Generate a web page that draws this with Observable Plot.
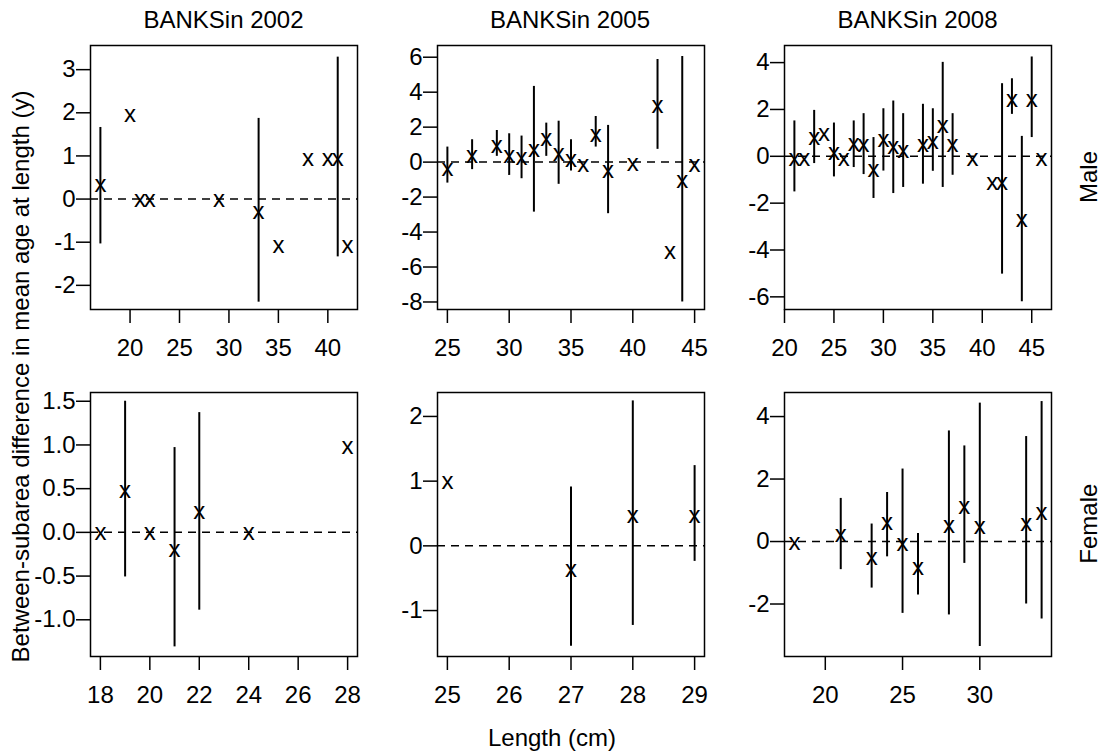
<!DOCTYPE html>
<html>
<head>
<meta charset="utf-8">
<script src="https://cdn.jsdelivr.net/npm/d3@7"></script>
<script src="https://cdn.jsdelivr.net/npm/@observablehq/plot@0.6"></script>
<style>
  html, body { margin: 0; padding: 0; background: #fff; }
  #chart { position: relative; width: 1104px; height: 753px; background: #fff; overflow: hidden;
           font-family: "Liberation Sans", Arial, Helvetica, sans-serif; }
</style>
</head>
<body>
<div id="chart"></div>
<script>
// ---------- data ----------
const titles = ["BANKSin 2002", "BANKSin 2005", "BANKSin 2008"];
const rowLabels = ["Male", "Female"];
const yLabel = "Between-subarea difference in mean age at length (y)";
const xLabel = "Length (cm)";

// Male 2002
const m2002Len  = [17, 20, 21, 22, 29, 33, 35, 38, 40, 41, 42];
const m2002Diff = [0.31, 1.93, -0.05, -0.05, -0.05, -0.33, -1.1, 0.9, 0.9, 0.9, -1.1];
const m2002Lo   = [-1.04, null, null, null, null, -2.39, null, null, null, -1.34, null];
const m2002Hi   = [1.66, null, null, null, null, 1.87, null, null, null, 3.29, null];

// Male 2005
const m2005Len  = [25, 27, 29, 30, 31, 32, 33, 34, 35, 36, 37, 38, 40, 42, 43, 44, 45];
const m2005Diff = [-0.44, 0.29, 0.9, 0.29, 0.19, 0.63, 1.28, 0.44, 0.1, -0.19, 1.53, -0.57, -0.15, 3.18, -5.2, -1.14, -0.19];
const m2005Lo   = [-1.2, -0.43, 0.33, -0.76, -0.95, -2.86, 0.33, -1.27, -0.51, null, 0.86, -2.95, null, 0.73, null, -8.0, null];
const m2005Hi   = [0.86, 1.28, 1.81, 1.62, 1.49, 4.33, 2.23, 2.34, 1.28, null, 2.61, 2.1, null, 5.87, null, 6.04, null];

// Male 2008
const m2008Len  = [21, 22, 23, 24, 25, 26, 27, 28, 29, 30, 31, 32, 34, 35, 36, 37, 39, 41, 42, 43, 44, 45, 46];
const m2008Diff = [-0.14, -0.14, 0.75, 0.9, 0.09, -0.17, 0.47, 0.43, -0.6, 0.64, 0.37, 0.18, 0.43, 0.57, 1.25, 0.43, -0.14, -1.17, -1.17, 2.36, -2.77, 2.36, -0.14];
const m2008Lo   = [-1.52, null, -0.31, null, -0.88, null, -0.48, -0.78, -1.8, -0.63, -1.59, -1.33, -1.19, -0.64, -1.33, -0.81, null, null, -5.03, 1.79, -6.21, 0.8, null];
const m2008Hi   = [1.51, null, 1.96, null, 1.42, null, 1.51, 1.82, 0.8, 2.03, 2.36, 1.82, 2.22, 2.03, 4.01, 1.82, null, null, 3.1, 3.31, 0.85, 4.24, null];

// Female 2002
const f2002Len  = [18, 19, 20, 21, 22, 24, 28];
const f2002Diff = [-0.02, 0.46, -0.02, -0.21, 0.22, -0.02, 0.97];
const f2002Lo   = [null, -0.51, null, -1.31, -0.89, null, null];
const f2002Hi   = [null, 1.5, null, 0.97, 1.37, null, null];

// Female 2005
const f2005Len  = [25, 27, 28, 29];
const f2005Diff = [0.97, -0.38, 0.45, 0.45];
const f2005Lo   = [null, -1.55, -1.23, -0.24];
const f2005Hi   = [null, 0.91, 2.24, 1.24];

// Female 2008
const f2008Len  = [18, 21, 23, 24, 25, 26, 28, 29, 30, 33, 34];
const f2008Diff = [-0.06, 0.19, -0.56, 0.58, -0.1, -0.88, 0.47, 1.09, 0.45, 0.54, 0.9];
const f2008Lo   = [null, -0.9, -1.49, -0.49, -2.3, -1.71, -2.35, -0.7, -3.36, -2.0, -2.48];
const f2008Hi   = [null, 1.38, 0.56, 1.57, 2.32, 0.26, 3.54, 3.06, 4.43, 3.36, 4.48];

// tick values
const xTicksM2002 = [20, 25, 30, 35, 40];
const xTicksM2005 = [25, 30, 35, 40, 45];
const xTicksM2008 = [20, 25, 30, 35, 40, 45];
const xTicksF2002 = [18, 20, 22, 24, 26, 28];
const xTicksF2005 = [25, 26, 27, 28, 29];
const xTicksF2008 = [20, 25, 30];
const yTicksM2002 = [-2, -1, 0, 1, 2, 3];
const yTicksM2005 = [-8, -6, -4, -2, 0, 2, 4, 6];
const yTicksM2008 = [-6, -4, -2, 0, 2, 4];
const yTicksF2002 = [-1.0, -0.5, 0.0, 0.5, 1.0, 1.5];
const yTicksF2005 = [-1, 0, 1, 2];
const yTicksF2008 = [-2, 0, 2, 4];

// y-axis limits as drawn
const yLimM2002 = [-2.56, 3.56];
const yLimM2005 = [-8.43, 6.67];
const yLimM2008 = [-6.54, 4.73];
const yLimF2002 = [-1.42, 1.60];
const yLimF2005 = [-1.71, 2.37];
const yLimF2008 = [-3.68, 4.77];

// ---------- layout ----------
const FONT = '"Liberation Sans", Arial, Helvetica, sans-serif';
const FW = 267, FH = 264;            // frame size
const ML = 90, MR = 10, MT = 10, MB = 60;
const colLeft = [90, 436.5, 784];
const rowTop = [45, 391.7];

const intFmt = d => String(d);
const oneDec = d => d.toFixed(1);

const panels = [
  {row: 0, col: 0, len: m2002Len, diff: m2002Diff, lo: m2002Lo, hi: m2002Hi, xt: xTicksM2002, yt: yTicksM2002, yl: yLimM2002, yf: intFmt},
  {row: 0, col: 1, len: m2005Len, diff: m2005Diff, lo: m2005Lo, hi: m2005Hi, xt: xTicksM2005, yt: yTicksM2005, yl: yLimM2005, yf: intFmt},
  {row: 0, col: 2, len: m2008Len, diff: m2008Diff, lo: m2008Lo, hi: m2008Hi, xt: xTicksM2008, yt: yTicksM2008, yl: yLimM2008, yf: intFmt},
  {row: 1, col: 0, len: f2002Len, diff: f2002Diff, lo: f2002Lo, hi: f2002Hi, xt: xTicksF2002, yt: yTicksF2002, yl: yLimF2002, yf: oneDec},
  {row: 1, col: 1, len: f2005Len, diff: f2005Diff, lo: f2005Lo, hi: f2005Hi, xt: xTicksF2005, yt: yTicksF2005, yl: yLimF2005, yf: intFmt},
  {row: 1, col: 2, len: f2008Len, diff: f2008Diff, lo: f2008Lo, hi: f2008Hi, xt: xTicksF2008, yt: yTicksF2008, yl: yLimF2008, yf: intFmt}
];

const chart = document.getElementById("chart");

for (const p of panels) {
  const rows = p.len.map((l, i) => ({len: l, diff: p.diff[i], lo: p.lo[i], hi: p.hi[i]}));
  const bars = rows.filter(d => d.lo != null && d.hi != null);
  const [xmin, xmax] = d3.extent(p.len);
  const pad = (xmax - xmin) * 0.04;   // R's default axis extension
  const svg = Plot.plot({
    width: ML + FW + MR,
    height: MT + FH + MB,
    marginLeft: ML, marginRight: MR, marginTop: MT, marginBottom: MB,
    style: {fontFamily: FONT, fontSize: "24px", background: "transparent", overflow: "visible", color: "black"},
    x: {domain: [xmin - pad, xmax + pad]},
    y: {domain: p.yl},
    marks: [
      Plot.ruleY([0], {stroke: "black", strokeWidth: 1.5, strokeDasharray: "8,6"}),
      Plot.ruleX(bars, {x: "len", y1: "lo", y2: "hi", stroke: "black", strokeWidth: 2}),
      Plot.text(rows, {x: "len", y: "diff", text: () => "x", fontSize: 24, fill: "black", dy: -1.5}),
      Plot.frame({stroke: "black", strokeWidth: 1.5}),
      Plot.axisX(p.xt, {tickSize: 14, tickPadding: 15, fontSize: 24, strokeWidth: 1.5, tickFormat: intFmt, label: null}),
      Plot.axisY(p.yt, {tickSize: 14, tickPadding: 1, fontSize: 24, strokeWidth: 1.5, tickFormat: p.yf, label: null})
    ]
  });
  svg.style.position = "absolute";
  svg.style.left = (colLeft[p.col] - ML) + "px";
  svg.style.top = (rowTop[p.row] - MT) + "px";
  chart.appendChild(svg);
}

// ---------- overlay text (titles, axis labels, row labels) ----------
const ov = d3.create("svg")
  .attr("width", 1104).attr("height", 753)
  .style("position", "absolute").style("left", "0px").style("top", "0px")
  .style("pointer-events", "none")
  .attr("font-family", FONT).attr("font-size", 24).attr("fill", "black");

titles.forEach((t, i) => {
  ov.append("text").attr("x", colLeft[i] + FW / 2).attr("y", 28)
    .attr("text-anchor", "middle").text(t);
});
rowLabels.forEach((t, i) => {
  const cy = rowTop[i] + FH / 2;
  ov.append("text").attr("transform", `translate(1097,${cy}) rotate(-90)`)
    .attr("text-anchor", "middle").text(t);
});
ov.append("text").attr("transform", `translate(29,376.5) rotate(-90)`)
  .attr("text-anchor", "middle").text(yLabel);
ov.append("text").attr("x", 552).attr("y", 746)
  .attr("text-anchor", "middle").text(xLabel);

chart.appendChild(ov.node());
</script>
</body>
</html>
